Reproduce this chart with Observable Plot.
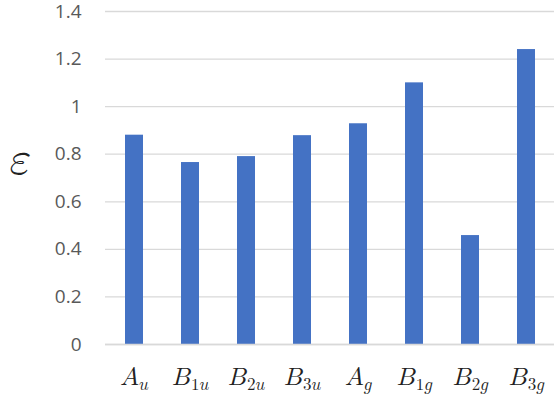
<!DOCTYPE html>
<html>
<head>
<meta charset="utf-8">
<script src="https://cdn.jsdelivr.net/npm/d3@7"></script>
<script src="https://cdn.jsdelivr.net/npm/@observablehq/plot@0.6"></script>
<style>
  html, body { margin: 0; padding: 0; background: #fff; }
</style>
</head>
<body>
<div id="chart"></div>
<script>
const categories = ["Au", "B1u", "B2u", "B3u", "Ag", "B1g", "B2g", "B3g"];
const values = [0.88, 0.765, 0.79, 0.878, 0.928, 1.10, 0.458, 1.24];
const yTicks = [0, 0.2, 0.4, 0.6, 0.8, 1.0, 1.2, 1.4];
const yLabel = "𝜀";
const mathItalic = {A: "𝐴", B: "𝐵", u: "𝑢", g: "𝑔"};
const MATH = "Latin Modern Math";

const data = categories.map((c, i) => ({category: c, value: values[i]}));

const plot = Plot.plot({
  width: 554,
  height: 400,
  marginLeft: 105,
  marginRight: 0,
  marginTop: 11,
  marginBottom: 56,
  style: {background: "#fff", overflow: "visible"},
  x: {domain: categories, paddingInner: 0.68, paddingOuter: 0.34, label: null},
  y: {domain: [0, 1.4], label: null},
  marks: [
    Plot.gridY(yTicks, {stroke: "#d9d9d9", strokeOpacity: 1, strokeWidth: 1.3}),
    Plot.barY(data, {x: "category", y: "value", fill: "#4472c4"}),
    Plot.ruleY([0], {stroke: "#d9d9d9", strokeWidth: 1.3}),
    Plot.axisY({
      ticks: yTicks, tickSize: 0, tickPadding: 24, label: null,
      tickFormat: d => String(+d.toFixed(1)),
      fontFamily: "Open Sans", fontSize: 19, fill: "#595959"
    }),
    Plot.axisX({
      tickSize: 0, tickPadding: 23, label: null,
      tickFormat: d => d,
      fontFamily: MATH, fontSize: 25, fill: "#222"
    }),
    Plot.text([yLabel], {
      text: d => d, frameAnchor: "left", dx: -96, dy: -19,
      fontFamily: MATH, fontSize: 47, fill: "#222"
    })
  ]
});

// x tick labels: math-italic letter with subscript
d3.select(plot).selectAll('g[aria-label="x-axis tick label"] text').each(function() {
  const t = d3.select(this);
  const s = t.text();
  t.text(null).attr("font-family", MATH);
  t.append("tspan").attr("font-family", MATH).text(mathItalic[s[0]]);
  let first = true;
  for (const ch of s.slice(1)) {
    const ts = t.append("tspan").attr("font-family", MATH).attr("font-size", 17)
      .text(mathItalic[ch] || ch);
    if (first) { ts.attr("dy", "0.25em"); first = false; }
  }
});

document.getElementById("chart").appendChild(plot);
</script>
</body>
</html>
